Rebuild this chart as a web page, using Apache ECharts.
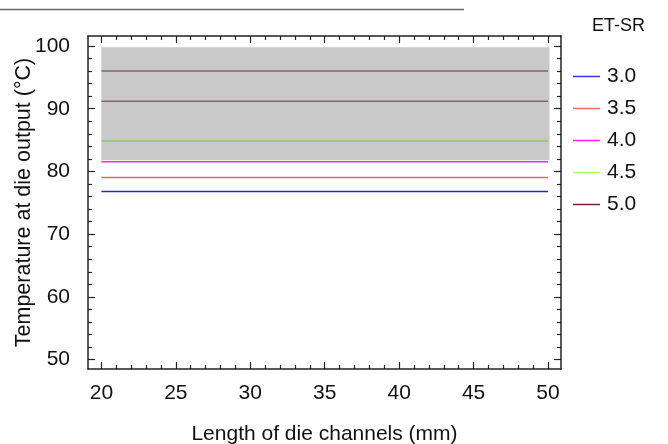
<!DOCTYPE html>
<html>
<head>
<meta charset="utf-8">
<script src="https://cdn.jsdelivr.net/npm/echarts@6/dist/echarts.min.js"></script>
<style>html,body{margin:0;padding:0;background:#fff}#c{width:668px;height:444px}</style>
</head>
<body>
<div id="c"></div>
<script>
// ---- data ----
const xValues = [20, 25, 30, 35, 40, 45, 50];
const s30 = [76.8, 76.8, 76.8, 76.8, 76.8, 76.8, 76.8];
const s35 = [79.05, 79.05, 79.05, 79.05, 79.05, 79.05, 79.05];
const s40 = [81.55, 81.55, 81.55, 81.55, 81.55, 81.55, 81.55];
const s45 = [84.85, 84.85, 84.85, 84.85, 84.85, 84.85, 84.85];
const s50 = [96.0, 96.0, 96.0, 96.0, 96.0, 96.0, 96.0];
const sExtra = [91.2, 91.2, 91.2, 91.2, 91.2, 91.2, 91.2];
const bandX = [20, 50.1];
const bandY = [81.8, 99.8];
const xTicks = [20, 25, 30, 35, 40, 45, 50];
const xMinorTicks = [21,22,23,24,26,27,28,29,31,32,33,34,36,37,38,39,41,42,43,44,46,47,48,49];
const yTicks = [50, 60, 70, 80, 90, 100];
const yMinorTicks = [52,54,56,58,62,64,66,68,72,74,76,78,82,84,86,88,92,94,96,98];
const legendNames = ['3.0', '3.5', '4.0', '4.5', '5.0'];

const X_MIN = 19.1, X_MAX = 50.87, Y_MIN = 48.5, Y_MAX = 101.6;
const FONT = 'Liberation Sans, Arial, sans-serif';
const lineCol = '#222';

function mk(vals) { return xValues.map((x, i) => [x, vals[i]]); }

function xAxisDef(pos, ticks, len, showLine, showLabel, name) {
  return {
    type: 'value', position: pos, min: X_MIN, max: X_MAX,
    splitLine: { show: false },
    axisLine: { show: showLine, onZero: false, lineStyle: { color: lineCol, width: 1.5 } },
    axisTick: { show: true, inside: true, length: len, customValues: ticks, lineStyle: { color: lineCol, width: 1.2 } },
    axisLabel: { show: showLabel, customValues: ticks, margin: 14, color: '#111', fontSize: 21, fontFamily: FONT },
    name: name || '', nameLocation: 'middle', nameGap: 55, nameMoveOverlap: false,
    nameTextStyle: { color: '#111', fontSize: 21, fontFamily: FONT }
  };
}
function yAxisDef(pos, ticks, len, showLine, showLabel, name) {
  return {
    type: 'value', position: pos, min: Y_MIN, max: Y_MAX,
    splitLine: { show: false },
    axisLine: { show: showLine, onZero: false, lineStyle: { color: lineCol, width: 1.5 } },
    axisTick: { show: true, inside: true, length: len, customValues: ticks, lineStyle: { color: lineCol, width: 1.2 } },
    axisLabel: { show: showLabel, customValues: ticks, margin: 18, color: '#111', fontSize: 21, fontFamily: FONT },
    name: name || '', nameLocation: 'middle', nameGap: 53, nameMoveOverlap: false,
    nameTextStyle: { color: '#111', fontSize: 21.5, fontFamily: FONT }
  };
}

const colors = ['#2828c8', '#f26060', '#ff22ff', '#8fc463', '#8a5f78'];
const legendColors = ['#3535d8', '#f26a6a', '#ff22ff', '#b2ff6c', '#7a1a48'];
const seriesVals = [s30, s35, s40, s45, s50];

const series = [{
  type: 'line', data: [], z: 1, silent: true,
  markArea: {
    silent: true,
    itemStyle: { color: '#c9c9c9' },
    data: [[{ coord: [bandX[0], bandY[1]] }, { coord: [bandX[1], bandY[0]] }]]
  }
}];
legendNames.forEach((n, i) => {
  series.push({
    name: n, type: 'line', data: mk(seriesVals[i]), symbol: 'none', z: 3,
    lineStyle: { color: colors[i], width: 1.5 }, itemStyle: { color: colors[i] }
  });
});
series.push({
  type: 'line', data: mk(sExtra), symbol: 'none', z: 3,
  lineStyle: { color: '#8a5f78', width: 1.5 }
});

const chart = echarts.init(document.getElementById('c'), null, { renderer: 'canvas' });
chart.setOption({
  animation: false,
  grid: { left: 88, right: 107, top: 36, bottom: 75, containLabel: false, outerBoundsMode: 'none' },
  title: { text: 'ET-SR', left: 587, top: 12, textStyle: { fontSize: 18, fontWeight: 'normal', color: '#111', fontFamily: FONT } },
  legend: {
    orient: 'vertical', left: 573, top: 66, padding: 0, itemWidth: 27, itemHeight: 1.5, itemGap: 11,
    icon: 'rect',
    textStyle: { fontSize: 21, color: '#111', fontFamily: FONT, padding: [0, 0, 0, 2] },
    data: legendNames.map((n, i) => ({ name: n, itemStyle: { color: legendColors[i] } }))
  },
  xAxis: [
    xAxisDef('bottom', xTicks, 7, true, true, 'Length of die channels (mm)'),
    xAxisDef('bottom', xMinorTicks, 4, false, false),
    xAxisDef('top', xTicks, 7, true, false),
    xAxisDef('top', xMinorTicks, 4, false, false)
  ],
  yAxis: [
    yAxisDef('left', yTicks, 7, true, true, 'Temperature at die output (°C)'),
    yAxisDef('left', yMinorTicks, 4, false, false),
    yAxisDef('right', yTicks, 7, true, false),
    yAxisDef('right', yMinorTicks, 4, false, false)
  ],
  graphic: [{
    type: 'line', shape: { x1: 0, y1: 9.5, x2: 464, y2: 9.5 },
    style: { stroke: '#666', lineWidth: 1.5 }, silent: true
  }],
  series: series
});
</script>
</body>
</html>
